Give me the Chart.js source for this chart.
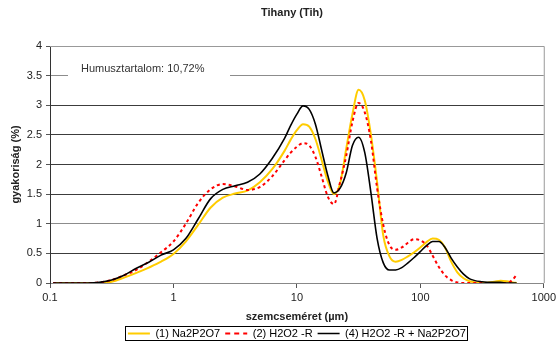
<!DOCTYPE html>
<html>
<head>
<meta charset="utf-8">
<script src="https://cdn.jsdelivr.net/npm/chart.js@4.4.0/dist/chart.umd.min.js"></script>
<style>
  html, body { margin: 0; padding: 0; background: #fff; }
  #wrap { width: 559px; height: 343px; position: relative; }
</style>
</head>
<body>
<div id="wrap"><canvas id="chart"></canvas></div>
<script>
// particle size (µm), log-spaced
const sizes = [0.106, 0.158, 0.2, 0.251, 0.316, 0.398, 0.501, 0.631, 0.794, 1,
  1.259, 1.585, 1.995, 2.512, 3.162, 3.981, 5.012, 6.31,
  7.943, 8.913, 10, 11.22, 12.59, 14.13, 15.85, 17.78, 19.95, 22.39, 25.12, 28.18,
  31.62, 35.48, 39.81, 44.67, 50.12, 56.23, 63.1, 70.79, 79.43, 89.13,
  100, 112.2, 125.9, 141.3, 158.5, 177.8, 199.5, 223.9, 251.2,
  316.2, 398.1, 446.7, 501.2, 562.3, 602.6];

// frequency (%) per series
const na2p2o7 = [0, 0, 0, 0, 0.02, 0.09, 0.17, 0.26, 0.36, 0.49,
  0.7, 0.98, 1.27, 1.44, 1.51, 1.56, 1.7, 1.92,
  2.23, 2.42, 2.58, 2.68, 2.64, 2.43, 2.08, 1.72, 1.5, 1.68, 2.27, 2.85,
  3.26, 3.08, 2.5, 1.7, 0.8, 0.45, 0.36, 0.39, 0.45, 0.52,
  0.6, 0.69, 0.75, 0.73, 0.6, 0.36, 0.18, 0.08, 0.03,
  0, 0.02, 0.04, 0.03, 0.01, 0];

const h2o2 = [0, 0, 0, 0.01, 0.05, 0.13, 0.22, 0.36, 0.52, 0.7,
  1.0, 1.35, 1.58, 1.67, 1.63, 1.57, 1.62, 1.8,
  2.07, 2.2, 2.3, 2.36, 2.32, 2.13, 1.8, 1.46, 1.33, 1.7, 2.15, 2.72,
  3.04, 2.88, 2.4, 1.6, 0.98, 0.64, 0.56, 0.6, 0.68, 0.74,
  0.72, 0.64, 0.46, 0.27, 0.13, 0.05, 0.01, 0, 0,
  0, 0, 0, 0, 0.06, 0.14];

const h2o2Na = [0, 0, 0, 0.01, 0.05, 0.13, 0.25, 0.35, 0.47, 0.56,
  0.75, 1.08, 1.42, 1.58, 1.64, 1.7, 1.84, 2.1,
  2.44, 2.66, 2.85, 2.99, 2.93, 2.68, 2.25, 1.82, 1.52, 1.6, 1.86, 2.32,
  2.46, 2.2, 1.52, 0.75, 0.34, 0.22, 0.22, 0.26, 0.34, 0.43,
  0.53, 0.63, 0.7, 0.7, 0.6, 0.42, 0.27, 0.15, 0.07,
  0.02, 0.01, 0.01, 0, 0, 0];

const xTicks = [0.1, 1, 10, 100, 1000];
const seriesNames = ['(1) Na2P2O7', '(2) H2O2 -R', '(4) H2O2 -R + Na2P2O7'];
const chartTitle = 'Tihany (Tih)';
const noteText = 'Humusztartalom: 10,72%';

const FONT = 'Arial, "Liberation Sans", sans-serif';
Chart.defaults.font.family = FONT;
Chart.defaults.font.size = 11;
Chart.defaults.color = '#222';

const pts = (vals) => vals.map((v, i) => ({ x: sizes[i], y: v }));

// title, note box, frame and legend border
const extras = {
  id: 'extras',
  beforeDatasetsDraw(chart) {
    const { ctx, chartArea: a } = chart;
    ctx.save();
    ctx.strokeStyle = '#999';
    ctx.lineWidth = 1;
    ctx.beginPath();
    ctx.moveTo(a.left, a.top + 0.5);
    ctx.lineTo(a.right + 0.5, a.top + 0.5);
    ctx.lineTo(a.right + 0.5, a.bottom);
    ctx.stroke();
    ctx.fillStyle = '#fff';
    ctx.fillRect(a.left + 18, a.top + 12, 162, 24);
    ctx.fillStyle = '#333';
    ctx.font = '11px ' + FONT;
    ctx.textBaseline = 'middle';
    ctx.fillText(noteText, a.left + 31, a.top + 23);
    ctx.restore();
  },
  afterDraw(chart) {
    const { ctx } = chart;
    ctx.save();
    ctx.fillStyle = '#222';
    ctx.font = 'bold 11px ' + FONT;
    ctx.textAlign = 'center';
    ctx.textBaseline = 'middle';
    ctx.fillText(chartTitle, 292, 13);
    const hb = chart.legend.legendHitBoxes;
    if (hb && hb.length) {
      const l = Math.min(...hb.map(h => h.left)) - 3;
      const r = Math.max(...hb.map(h => h.left + h.width)) + 1;
      const t = hb[0].top - 2;
      const b = hb[0].top + hb[0].height + 1;
      ctx.strokeStyle = '#000';
      ctx.lineWidth = 1;
      ctx.strokeRect(Math.round(l) + 0.5, Math.round(t) + 0.5, Math.round(r - l), Math.round(b - t));
    }
    ctx.restore();
  }
};

const legendDash = [[], [5, 4], []];

new Chart(document.getElementById('chart').getContext('2d'), {
  type: 'line',
  data: {
    datasets: [
      { label: seriesNames[0], data: pts(na2p2o7), borderColor: '#FFCC00', borderWidth: 2, order: 2 },
      { label: seriesNames[1], data: pts(h2o2), borderColor: '#FF0000', borderWidth: 2, borderDash: [3, 3], order: 1 },
      { label: seriesNames[2], data: pts(h2o2Na), borderColor: '#000000', borderWidth: 1.6, order: 0 }
    ]
  },
  options: {
    responsive: true,
    maintainAspectRatio: false,
    animation: false,
    devicePixelRatio: 1,
    layout: { padding: { top: 46, right: 13, left: 0, bottom: -6 } },
    elements: {
      point: { radius: 0, hoverRadius: 0 },
      line: { cubicInterpolationMode: 'monotone', fill: false }
    },
    plugins: {
      title: { display: false },
      tooltip: { enabled: false },
      legend: {
        position: 'bottom',
        fullSize: false,
        labels: {
          usePointStyle: true,
          pointStyle: 'line',
          pointStyleWidth: 22,
          padding: 5,
          color: '#000',
          font: { size: 11 },
          sort: (a, b) => a.datasetIndex - b.datasetIndex,
          generateLabels: (chart) => Chart.defaults.plugins.legend.labels.generateLabels(chart).map(item => {
            const ds = chart.data.datasets[item.datasetIndex];
            return Object.assign(item, {
              strokeStyle: ds.borderColor,
              lineWidth: ds.borderWidth,
              lineDash: legendDash[item.datasetIndex],
              pointStyle: 'line'
            });
          })
        }
      }
    },
    scales: {
      x: {
        type: 'logarithmic',
        min: 0.1,
        max: 1000,
        afterFit: (s) => { s.height = 40; },
        afterBuildTicks: (s) => { s.ticks = xTicks.map(v => ({ value: v })); },
        ticks: { autoSkip: false, maxRotation: 0, padding: 3, color: '#222', callback: (v) => String(v) },
        grid: { drawOnChartArea: false, tickLength: 5, color: '#555' },
        border: { color: '#888' },
        title: { display: true, text: 'szemcseméret (µm)', font: { weight: 'bold', size: 11 }, color: '#222', padding: { top: 0, bottom: -1 } }
      },
      y: {
        min: 0,
        max: 4,
        afterFit: (s) => { s.width = 50; },
        ticks: { stepSize: 0.5, padding: 4, color: '#222', callback: (v) => String(v) },
        grid: {
          tickLength: 4,
          color: (c) => [0, 1, 3.5, 4].includes(c.tick && c.tick.value) ? '#8c8c8c' : '#3c3c3c',
          tickColor: '#555'
        },
        border: { color: '#333' },
        title: { display: true, text: 'gyakoriság (%)', font: { weight: 'bold', size: 11 }, color: '#222', padding: { top: 9, bottom: 0 } }
      }
    }
  },
  plugins: [extras]
});
</script>
</body>
</html>
